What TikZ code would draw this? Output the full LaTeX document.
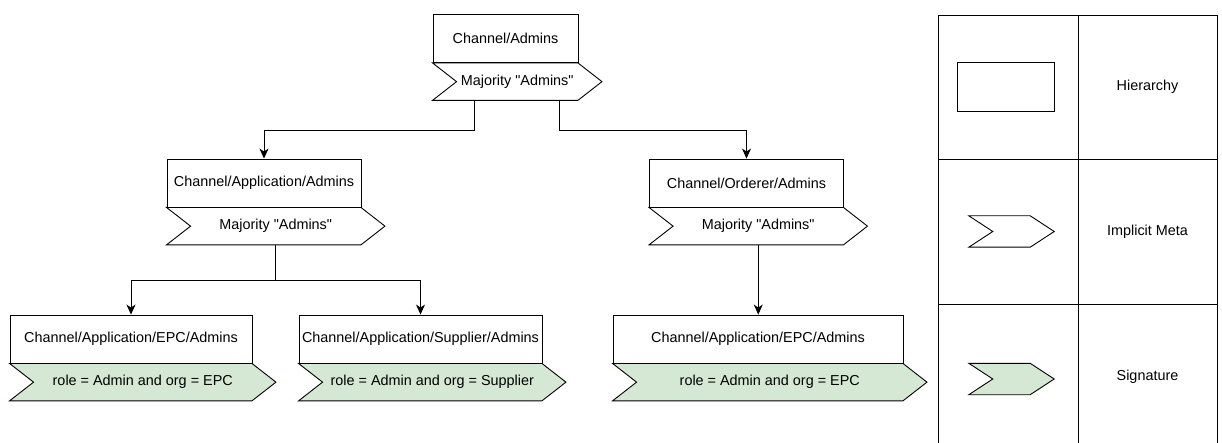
\documentclass[tikz,border=0pt]{standalone}
\usepackage{fontspec}
\setmainfont{Liberation Sans}[Ligatures=TeXOff]
\usetikzlibrary{arrows.meta,backgrounds}

\definecolor{sigfill}{HTML}{D5E8D4}

\tikzset{
    policy box/.style={
      draw=black,
      line width=0.9pt,
      fill=white,
      minimum height=48pt,
      inner sep=0pt
    },
    policy step/.style={
      minimum height=37pt,
      inner sep=0pt
    },
    step outline/.style={
      draw=black,
      line width=0.9pt,
      line join=miter
    },
    policy link/.style={
      draw=black,
      line width=0.9pt,
      -{Stealth[length=10pt,width=9pt,inset=3pt]}
    },
    legend grid/.style={
      draw=black,
      line width=0.9pt
    }
  }

% 矢羽根の輪郭 (#1 = ノード名, #2 = 塗り)
\newcommand{\stepshape}[2]{%
  \path[step outline, fill=#2] (#1.north west) -- ([xshift=-24pt]#1.north east)
    -- (#1.east) -- ([xshift=-24pt]#1.south east) -- (#1.south west)
    -- ([xshift=24pt]#1.west) -- cycle;}

\begin{document}
\begin{tikzpicture}[x=1pt,y=-1pt,font=\fontsize{14.4}{17}\selectfont]
      \useasboundingbox (0,0) rectangle (1222,443);

      % ポリシー
      \node[policy box, minimum width=145pt] (chanbox) at (505.5,38.5) {Channel/Admins};
      \node[policy step, minimum width=169pt, anchor=north west] (chanstep) at (chanbox.south west) {Majority "Admins"};

      \node[policy box, minimum width=194pt] (appbox) at (264,183) {Channel/Application/Admins};
      \node[policy step, minimum width=218pt, anchor=north west] (appstep) at (appbox.south west) {Majority "Admins"};

      \node[policy box, minimum width=194pt] (ordbox) at (746.5,183) {Channel/Orderer/Admins};
      \node[policy step, minimum width=218pt, anchor=north west] (ordstep) at (ordbox.south west) {Majority "Admins"};

      \node[policy box, minimum width=242pt] (epcbox) at (131,339) {Channel/Application/EPC/Admins};
      \node[policy step, minimum width=266pt, anchor=north west] (epcstep) at (epcbox.south west) {role = Admin and org = EPC};

      \node[policy box, minimum width=243pt] (supbox) at (420.5,339) {Channel/Application/Supplier/Admins};
      \node[policy step, minimum width=267pt, anchor=north west] (supstep) at (supbox.south west) {role = Admin and org = Supplier};

      \node[policy box, minimum width=290pt] (ordepcbox) at (758,339) {Channel/Application/EPC/Admins};
      \node[policy step, minimum width=314pt, anchor=north west] (ordepcstep) at (ordepcbox.south west) {role = Admin and org = EPC};

      % 接続
      \draw[policy link] ([xshift=-42.5pt]chanstep.south) -- ++(0,30) -| (appbox.north);
      \draw[policy link] ([xshift=42.5pt]chanstep.south) -- ++(0,30) -| (ordbox.north);
      \draw[policy link] (appstep.south) -- ++(0,36) -| (epcbox.north);
      \draw[policy link] (appstep.south) -- ++(0,36) -| (supbox.north);
      \draw[policy link] (ordstep.south) -- (ordstep.south |- ordepcbox.north);

      % 凡例
      \draw[legend grid] (938,15) rectangle (1217,449);
      \draw[legend grid] (1078,15) -- (1078,449);
      \draw[legend grid] (938,159) -- (1217,159);
      \draw[legend grid] (938,304) -- (1217,304);
      \node[policy box, minimum width=97pt, minimum height=49pt] (keybox) at (1005.5,86.5) {};
      \node[policy step, minimum width=85pt, minimum height=31pt] (keymeta) at (1011.5,231.5) {};
      \node[policy step, minimum width=85pt, minimum height=31pt] (keysig) at (1011.5,379) {};
      \node (keyboxlabel) at (1147.5,87) {Hierarchy};
      \node (keymetalabel) at (1147.5,231.5) {Implicit Meta};
      \node (keysiglabel) at (1147.5,376.5) {Signature};

      % 矢羽根
      \begin{scope}[on background layer]
        \foreach \n in {chanstep,appstep,ordstep,keymeta}
          \stepshape{\n}{white};
        \foreach \n in {epcstep,supstep,ordepcstep,keysig}
          \stepshape{\n}{sigfill};
      \end{scope}
    \end{tikzpicture}
\end{document}
